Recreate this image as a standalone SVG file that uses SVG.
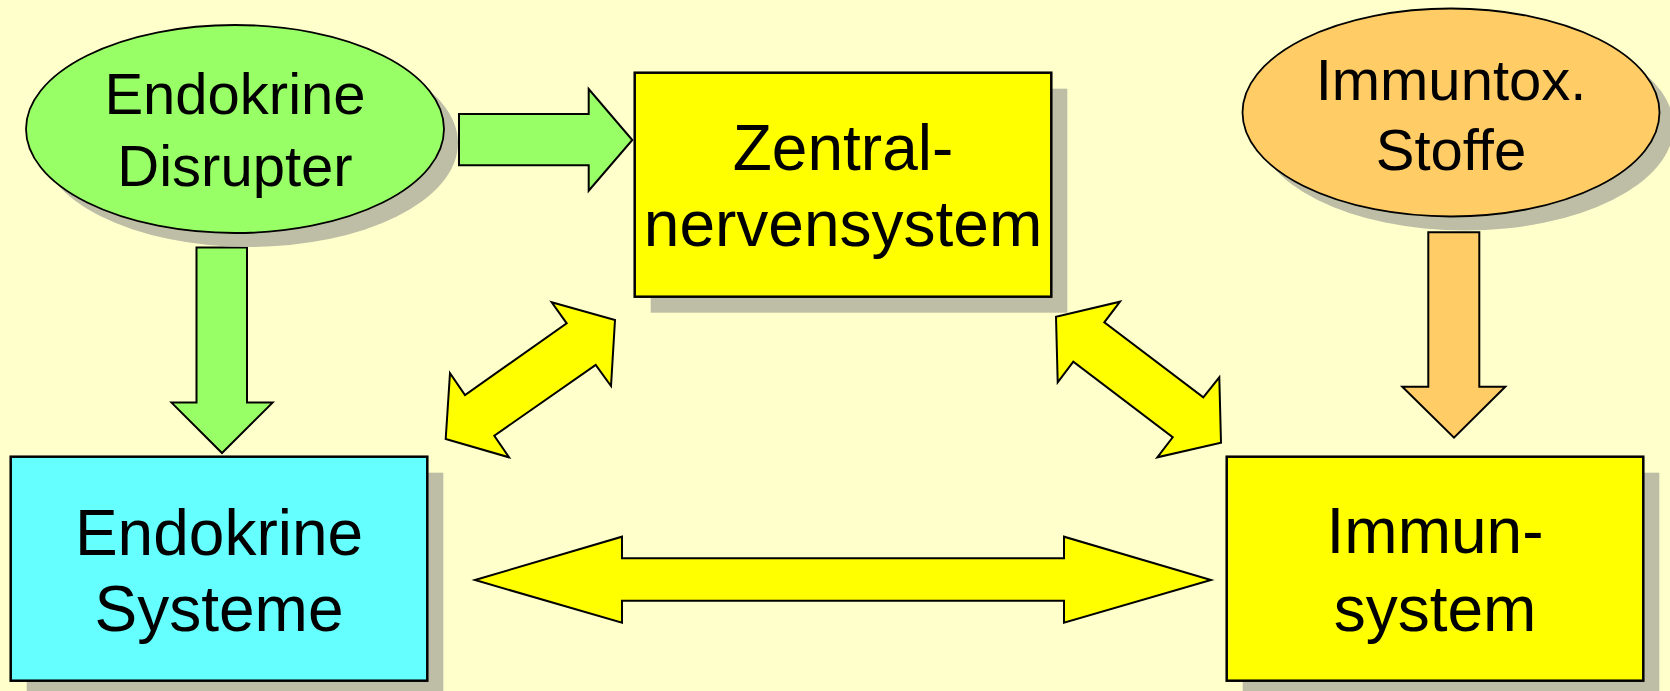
<svg xmlns="http://www.w3.org/2000/svg" width="1670" height="691" viewBox="0 0 1670 691">
<style>
.bg{fill:#FFFFCC}
.sh{fill:#BEBEA6}
.box{stroke:#000;stroke-width:2.5}
.ell{stroke:#000;stroke-width:1.8}
.arr{stroke:#000;stroke-width:2;stroke-linejoin:miter}
.t{font-family:"Liberation Sans",Arial,sans-serif;fill:#000;text-anchor:middle}
.t64{font-size:64px}
.t58{font-size:58px}
</style>
<rect class="bg" x="0" y="0" width="1670" height="691"/>

<g id="connectors">
  <polygon class="arr" fill="#99FF66" points="459,114 588.7,114 588.7,89 632.3,140 588.7,190.7 588.7,165.3 459,165.3"/>
  <polygon class="arr" fill="#99FF66" points="196.5,247.5 247,247.5 247,402.6 272.6,402.6 222,453 171.5,402.6 196.5,402.6"/>
  <polygon class="arr" fill="#FFCC66" points="1428.3,232.3 1479.3,232.3 1479.3,386.7 1505.3,386.7 1454,437.7 1402.3,386.7 1428.3,386.7"/>
  <polygon class="arr" fill="#FFFF00" points="551.7,302.3 615,320 611,386 595.7,365 494.3,435.7 509,457.3 445.7,439 450,373.3 465,395 566.7,323.3"/>
  <polygon class="arr" fill="#FFFF00" points="1120,301.7 1104.3,322.3 1203.3,397.3 1219.3,377.3 1221,442.7 1157.3,457.3 1172.7,437.3 1073.3,361.7 1057.7,382.3 1056,316.7"/>
  <polygon class="arr" fill="#FFFF00" points="475,580 622,536.7 622,558.3 1064,558.3 1064,536.7 1211,580 1064,622.7 1064,600.7 622,600.7 622,622.7"/>
</g>

<g id="endokrine-disrupter">
  <ellipse class="sh" cx="249" cy="143" rx="209" ry="104"/>
  <ellipse class="ell" fill="#99FF66" cx="235" cy="129" rx="209" ry="104"/>
  <text class="t t58" x="235" y="114">Endokrine</text>
  <text class="t t58" x="235" y="186">Disrupter</text>
</g>

<g id="immuntox-stoffe">
  <ellipse class="sh" cx="1465" cy="126.5" rx="208.5" ry="104"/>
  <ellipse class="ell" fill="#FFCC66" cx="1451" cy="112.5" rx="208.5" ry="104"/>
  <text class="t t58" x="1451" y="100">Immuntox.</text>
  <text class="t t58" x="1451" y="170">Stoffe</text>
</g>

<g id="zentralnervensystem">
  <rect class="sh" x="650.7" y="88.7" width="416.6" height="224"/>
  <rect class="box" fill="#FFFF00" x="634.7" y="72.7" width="416.6" height="224"/>
  <text class="t t64" x="843" y="170">Zentral-</text>
  <text class="t t64" x="843" y="246">nervensystem</text>
</g>

<g id="endokrine-systeme">
  <rect class="sh" x="26.7" y="472.7" width="416.6" height="224"/>
  <rect class="box" fill="#66FFFF" x="10.7" y="456.7" width="416.6" height="224"/>
  <text class="t t64" x="219" y="555">Endokrine</text>
  <text class="t t64" x="219" y="631">Systeme</text>
</g>

<g id="immunsystem">
  <rect class="sh" x="1242.7" y="472.7" width="416.6" height="224"/>
  <rect class="box" fill="#FFFF00" x="1226.7" y="456.7" width="416.6" height="224"/>
  <text class="t t64" x="1435" y="553">Immun-</text>
  <text class="t t64" x="1435" y="631">system</text>
</g>
</svg>
